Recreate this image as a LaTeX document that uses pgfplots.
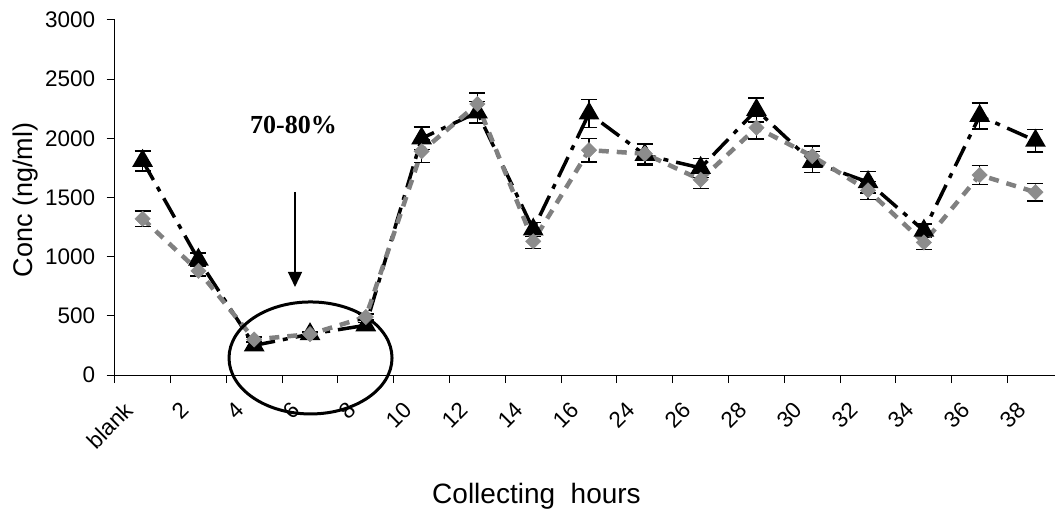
\documentclass[border=0pt]{standalone}
\usepackage{fontspec}
\setmainfont{Liberation Sans}
\newfontfamily\timesfont{Liberation Serif}
\usepackage{pgfplots}
\usepackage{pgfplotstable}
\pgfplotsset{compat=1.18}
\usetikzlibrary{arrows.meta}
\definecolor{dgray}{RGB}{128,128,128}
\definecolor{mgray}{RGB}{140,140,140}

\pgfplotstableread{
x black berr gray gerr
1 1810 85 1320 65
2 975 55 880 45
3 250 25 300 20
4 345 20 345 20
5 420 25 490 25
6 2000 95 1890 95
7 2220 90 2290 95
8 1230 60 1130 60
9 2210 120 1900 100
10 1860 90 1870 85
11 1750 80 1650 75
12 2240 100 2090 95
13 1800 90 1850 85
14 1630 90 1560 75
15 1220 55 1120 60
16 2190 110 1690 80
17 1980 95 1545 75
}\datatable

\begin{document}
\begin{tikzpicture}
\path[use as bounding box] (0bp,0bp) rectangle (1055bp,513bp);
\begin{axis}[
  at={(114.7bp,138bp)}, anchor=south west,
  scale only axis, width=940.3bp, height=355bp,
  xmin=0.5, xmax=17.35, ymin=0, ymax=3000,
  axis x line*=bottom, axis y line*=left,
  axis line style={line width=1bp, black},
  clip=false,
  tick align=outside,
  xtick={0.5,1.5,...,16.5},
  xticklabels={blank,2,4,6,8,10,12,14,16,24,26,28,30,32,34,36,38},
  major tick length=8bp,
  ytick={0,500,...,3000},
  tick style={line width=1bp, black},
  /pgf/number format/assume math mode=true,
  /pgf/number format/set thousands separator={},
  yticklabel style={font=\fontsize{22.5bp}{27bp}\selectfont, xshift=-8bp},
  xticklabel style={font=\fontsize{22.5bp}{27bp}\selectfont, xshift=16.4bp, yshift=-21bp, rotate=45, anchor=east},
  xlabel={Collecting\ \ hours},
  ylabel={Conc (ng/ml)},
  xlabel style={font=\fontsize{28bp}{32bp}\selectfont, anchor=base, at={(axis description cs:0.4486,-0.3606)}},
  ylabel style={font=\fontsize{27bp}{31bp}\selectfont, anchor=center, rotate=0, at={(axis description cs:-0.0949,0.493)}},
]
\addplot[black, line width=3.5bp, dash pattern=on 22bp off 8bp on 5bp off 8bp,
  mark=triangle*, mark size=8.5bp, mark options={solid, fill=black},
  error bars/.cd, y dir=both, y explicit,
  error bar style={solid, line width=1.5bp, black},
  error mark options={rotate=90, mark size=8bp, solid, line width=1.5bp, black}]
  table[x=x, y=black, y error=berr] {\datatable};
\addplot[dgray, line width=4.5bp, dash pattern=on 10bp off 8bp,
  mark=square*, mark size=5.4bp, mark options={solid, rotate=45, fill=mgray, draw=mgray, line width=0.5bp},
  error bars/.cd, y dir=both, y explicit,
  error bar style={solid, line width=1.5bp, black},
  error mark options={rotate=90, mark size=8bp, solid, line width=1.5bp, black}]
  table[x=x, y=gray, y error=gerr] {\datatable};
\draw[line width=1.5bp, -{Triangle[length=15bp,width=14bp]}] (axis cs:3.731,1547) -- (axis cs:3.731,744);
\draw[line width=3bp] (axis cs:4.009,144) ellipse [x radius=81.5bp, y radius=56bp];
\node[anchor=base, font=\timesfont\bfseries\fontsize{26bp}{30bp}\selectfont] at (axis cs:3.704,2045) {70-80\%};
\end{axis}
\end{tikzpicture}
\end{document}
